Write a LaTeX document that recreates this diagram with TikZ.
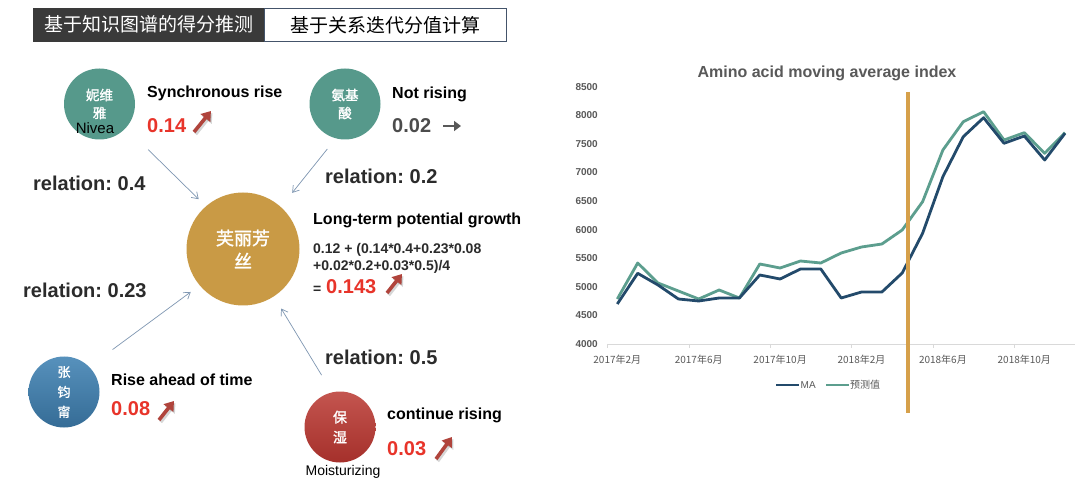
\documentclass[tikz,border=0pt]{standalone}
\usepackage{fontspec}
\setmainfont{Liberation Sans}
\newfontfamily\cjk{Noto Sans CJK SC}
\newfontfamily\cjkb{Noto Sans CJK SC}[FakeBold=1.5]
\usetikzlibrary{arrows.meta}
\definecolor{tealc}{HTML}{56998B}
\definecolor{goldc}{HTML}{C99A45}
\definecolor{redn}{HTML}{E8342A}
\definecolor{trendc}{HTML}{B0443C}
\definecolor{linkc}{HTML}{7F97B2}
\definecolor{darkt}{HTML}{2B2B2B}
\definecolor{grayt}{HTML}{595959}
\definecolor{mac}{HTML}{234A6B}
\definecolor{predc}{HTML}{5C9E8E}
\definecolor{orangec}{HTML}{D6A04A}
\definecolor{hdrdark}{HTML}{3A3A3A}
\definecolor{hdrline}{HTML}{44546A}
\definecolor{bluetop}{HTML}{5791BC}
\definecolor{bluebot}{HTML}{356C96}
\definecolor{redtop}{HTML}{C4554F}
\definecolor{redbot}{HTML}{A5302B}
\begin{document}
\frenchspacing
\begin{tikzpicture}[x=1pt,y=-1pt,
  circ/.style={circle, minimum size=71pt, inner sep=0pt, text=white, align=center},
  lbl/.style={anchor=base west, inner sep=0pt, font=\bfseries\fontsize{16}{18}\selectfont, text=black},
  rel/.style={anchor=base west, inner sep=0pt, font=\bfseries\fontsize{20}{22}\selectfont, text=darkt},
  num/.style={anchor=base west, inner sep=0pt, font=\bfseries\fontsize{20}{22}\selectfont, text=redn},
  frm/.style={anchor=base west, inner sep=0pt, font=\bfseries\fontsize{14}{16}\selectfont, text=darkt},
  relarrow/.style={draw=linkc, line width=0.7pt, -{Straight Barb[length=6pt,width=8pt]}},
  trend/.style={draw=trendc, line width=3.6pt, -{Triangle[length=9pt,width=12pt]}},
  tshadow/.style={draw=black, opacity=0.16, line width=3.8pt, -{Triangle[length=9pt,width=12pt]}},
  ylab/.style={anchor=east, inner sep=0pt, font=\bfseries\fontsize{10}{12}\selectfont, text=grayt},
  xlab/.style={anchor=center, inner sep=0pt, font=\cjk\fontsize{10}{12}\selectfont, text=grayt},
  ser/.style={line width=2.8pt, line join=round}
]
\useasboundingbox (0,0) rectangle (1080,489);
\fill[white] (0,0) rectangle (1080,489);

% header
\node[draw=hdrdark, fill=hdrdark, minimum width=231pt, minimum height=33pt, inner sep=0pt, anchor=north west,
  text=white, font=\cjk\fontsize{19}{21}\selectfont] (hdrA) at (33,8) {基于知识图谱的得分推测};
\node[draw=hdrline, line width=0.7pt, fill=white, minimum width=242pt, minimum height=33pt, inner sep=0pt, anchor=north west,
  text=black, font=\cjk\fontsize{19}{21}\selectfont] (hdrB) at (264,8) {基于关系迭代分值计算};

% circles
\node[circ, fill=tealc, font=\cjkb\fontsize{13.5}{18}\selectfont] (nivea) at (99.5,104) {妮维\\雅};
\node[anchor=base, inner sep=0pt, font=\fontsize{15}{17}\selectfont, text=black] (niveaen) at (95,134) {Nivea};
\node[circ, fill=tealc, font=\cjkb\fontsize{13.5}{18}\selectfont] (amino) at (345,104) {氨基\\酸};
\node[circle, minimum size=113pt, inner sep=0pt, fill=goldc, text=white, align=center,
  font=\cjkb\fontsize{18}{23}\selectfont] (center) at (243,249) {芙丽芳\\丝};
\node[circ, top color=bluetop, bottom color=bluebot,
  font=\cjkb\fontsize{13}{20}\selectfont] (zhang) at (64,392) {张\\钧\\甯};
\node[circ, top color=redtop, bottom color=redbot, font=\cjkb\fontsize{14}{20}\selectfont] (baoshi) at (340,427) {保\\湿};
\node[anchor=base, inner sep=0pt, font=\fontsize{14}{16}\selectfont, text=black] (baoshien) at (343,475) {Moisturizing};

% connectors
\draw[relarrow, shorten <=31pt, shorten >=10pt] (nivea.-42.3) -- (center.131.3);
\draw[relarrow, shorten <=13.5pt, shorten >=18pt] (amino.255.7) -- (center.48.8);
\draw[relarrow, shorten <=29pt, shorten >=11pt] (zhang.45.6) -- (center.220.8);
\draw[relarrow, shorten <=20pt, shorten >=14pt] (baoshi.103.8) -- (center.-57.2);

% labels
\node[lbl] (t1) at (147,97.7) {Synchronous rise};
\node[num] (n1) at (147,132.7) {0.14};
\node[rel] (r1) at (33,190.7) {relation: 0.4};
\node[lbl] (t2) at (392,98.3) {Not rising};
\node[num, text=grayt!85!black] (n2) at (392,132.7) {0.02};
\node[rel] (r2) at (325,183.3) {relation: 0.2};
\node[lbl] (t3) at (313,225) {Long-term potential growth};
\node[frm] (f1) at (313,254) {0.12 + (0.14*0.4+0.23*0.08};
\node[frm] (f2) at (313,270.7) {+0.02*0.2+0.03*0.5)/4};
\node[frm] (f3) at (313,293.3) {=};
\node[num] (n3) at (326,293.3) {0.143};
\node[rel] (r3) at (23,297.3) {relation: 0.23};
\node[lbl] (t4) at (111,385) {Rise ahead of time};
\node[num] (n4) at (111,415.7) {0.08};
\node[rel] (r4) at (325,365) {relation: 0.5};
\node[lbl] (t5) at (387,419.3) {continue rising};
\node[num] (n5) at (387,455) {0.03};

% trend arrows
\foreach \a/\b/\c/\d in {194/132/211/111, 387/293/402/274, 159/420/174/401, 436/459/452/437}{
  \draw[tshadow] (\a+1.5,\b+2) -- (\c+1.5,\d+2);
  \draw[trend] (\a,\b) -- (\c,\d);
}
\draw[draw=grayt, line width=2.6pt, -{Triangle[length=7pt,width=10pt]}] (443,126) -- (461,126);

% chart
\node[anchor=center, inner sep=0pt, font=\bfseries\fontsize{16}{18}\selectfont, text=grayt] (ctitle) at (827,73) {Amino acid moving average index};
\foreach \k/\v in {0/4000,1/4500,2/5000,3/5500,4/6000,5/6500,6/7000,7/7500,8/8000,9/8500}{
  \node[ylab] (y\k) at (598,344-\k*28.6) {\v};
}
\draw[draw=black!15, line width=0.8pt] (607.5,344) -- (1075,344);
\foreach \k in {0,...,5}{
  \draw[draw=black!15, line width=0.8pt] (607.7+\k*81.3,344) -- (607.7+\k*81.3,348);
}
\node[xlab] (x0) at (617.3,360) {2017年2月};
\node[xlab] (x1) at (698.7,360) {2017年6月};
\node[xlab] (x2) at (780.1,360) {2017年10月};
\node[xlab] (x3) at (861.5,360) {2018年2月};
\node[xlab] (x4) at (942.9,360) {2018年6月};
\node[xlab] (x5) at (1024.3,360) {2018年10月};

\draw[ser, draw=predc] (617.3,299) -- (637.7,263) -- (658.0,283) -- (678.4,291) -- (698.7,299) -- (719.1,290) -- (739.4,298) -- (759.8,264) -- (780.1,268) -- (800.5,261) -- (820.8,263) -- (841.2,253) -- (861.5,247) -- (881.9,244) -- (902.2,230) -- (922.6,201.7) -- (942.9,150) -- (963.3,121.7) -- (983.6,111.7) -- (1004.0,140) -- (1024.3,132.7) -- (1044.7,153.3) -- (1065.0,132.7);
\draw[ser, draw=mac] (617.3,304) -- (637.7,273.3) -- (658.0,285) -- (678.4,299) -- (698.7,301) -- (719.1,298) -- (739.4,298) -- (759.8,275) -- (780.1,279) -- (800.5,269) -- (820.8,269) -- (841.2,298) -- (861.5,292) -- (881.9,292) -- (902.2,273) -- (922.6,233.3) -- (942.9,176.7) -- (963.3,136.7) -- (983.6,117.7) -- (1004.0,143.3) -- (1024.3,136) -- (1044.7,160) -- (1065.0,133.3);

% legend
\coordinate (lgA1) at (776,385); \coordinate (lgA2) at (799,385);
\draw[ser, draw=mac] (lgA1) -- (lgA2);
\node[anchor=west, inner sep=0pt, font=\fontsize{10}{12}\selectfont, text=grayt] (lgAt) at (800.5,385) {MA};
\coordinate (lgB1) at (826,385); \coordinate (lgB2) at (849,385);
\draw[ser, draw=predc] (lgB1) -- (lgB2);
\node[anchor=west, inner sep=0pt, font=\cjk\fontsize{10}{12}\selectfont, text=grayt] (lgBt) at (850,385) {预测值};

% vertical marker
\coordinate (vtop) at (908,92); \coordinate (vbot) at (908,413);
\draw[draw=orangec, line width=3.6pt] (vtop) -- (vbot);
\end{tikzpicture}
\end{document}
